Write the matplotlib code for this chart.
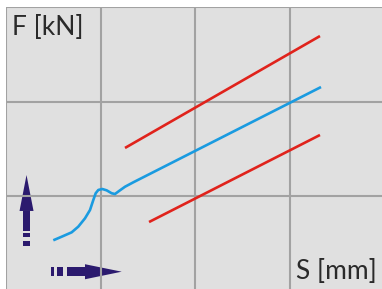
import matplotlib
matplotlib.use("Agg")
import matplotlib.pyplot as plt
from matplotlib.patches import Rectangle, Polygon

# data in grid units (one grid cell = 1)
upper_x = [1.258, 3.319]
upper_y = [1.510, 2.693]
lower_x = [1.512, 3.319]
lower_y = [0.727, 1.647]
curve_x = [0.500, 0.589, 0.694, 0.764, 0.835, 0.888, 0.923, 0.948, 0.976,
           1.018, 1.064, 1.117, 1.152, 1.195, 1.258, 1.346, 3.330]
curve_y = [0.534, 0.572, 0.618, 0.678, 0.766, 0.854, 0.960, 1.031, 1.066,
           1.076, 1.062, 1.031, 1.023, 1.055, 1.100, 1.147, 2.154]

red = '#e0231c'
blue = '#1a9be0'
navy = '#2b1a6e'

fig = plt.figure(figsize=(3.82, 2.89), dpi=100)
ax = fig.add_axes([6 / 382, 0, 376 / 382, 282 / 289])
ax.set_facecolor('#e0e0e0')
ax.set_xlim(0, 376 / 94.6)
ax.set_ylim(3 - 282 / 94.6, 3)
for s in ax.spines.values():
    s.set_visible(False)
ax.set_xticks([0, 1, 2, 3])
ax.set_yticks([1, 2, 3])
ax.tick_params(length=0, labelbottom=False, labelleft=False)
ax.grid(True, color='#a2a2a2', linewidth=1.5)

ax.plot(upper_x, upper_y, color=red, lw=1.9, solid_capstyle='butt')
ax.plot(lower_x, lower_y, color=red, lw=1.9, solid_capstyle='butt')
ax.plot(curve_x, curve_y, color=blue, lw=1.9, solid_capstyle='butt',
        solid_joinstyle='round')

# vertical arrow
ax.add_patch(Polygon([[0.143, 0.844], [0.291, 0.844], [0.217, 1.224]], color=navy, lw=0))
ax.add_patch(Rectangle((0.180, 0.632), 0.074, 0.212, color=navy, lw=0))
ax.add_patch(Rectangle((0.180, 0.569), 0.074, 0.042, color=navy, lw=0))
ax.add_patch(Rectangle((0.180, 0.474), 0.074, 0.052, color=navy, lw=0))
# horizontal arrow
ax.add_patch(Polygon([[0.835, 0.122], [0.835, 0.281], [1.223, 0.202]], color=navy, lw=0))
ax.add_patch(Rectangle((0.642, 0.156), 0.193, 0.092, color=navy, lw=0))
ax.add_patch(Rectangle((0.542, 0.156), 0.064, 0.092, color=navy, lw=0))
ax.add_patch(Rectangle((0.473, 0.156), 0.038, 0.092, color=navy, lw=0))

ax.text(0.063, 2.704, 'F [kN]', fontsize=19, family='Lato',
        color='#2a2a2a', va='baseline', ha='left')
ax.text(3.922, 0.130, 'S [mm]', fontsize=19, family='Lato',
        color='#2a2a2a', va='baseline', ha='right')

fig.savefig('out.png', dpi=100, facecolor='white')
